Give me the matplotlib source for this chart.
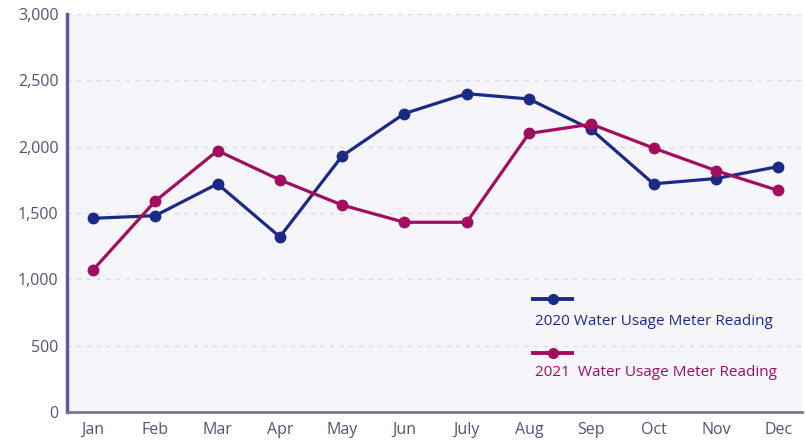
import matplotlib.pyplot as plt

months = ['Jan', 'Feb', 'Mar', 'Apr', 'May', 'Jun', 'July', 'Aug', 'Sep', 'Oct', 'Nov', 'Dec']
usage_2020 = [1460, 1480, 1720, 1320, 1930, 2250, 2400, 2360, 2130, 1720, 1760, 1850]
usage_2021 = [1070, 1590, 1970, 1750, 1560, 1430, 1430, 2100, 2170, 1990, 1820, 1670]
yticks = [0, 500, 1000, 1500, 2000, 2500, 3000]

blue = '#1b2a86'
red = '#a30d5e'
txt = '#5b4f78'

plt.rcParams['font.family'] = ['Open Sans', 'DejaVu Sans']

fig = plt.figure(figsize=(8.05, 4.41), dpi=100)
ax = fig.add_axes([0.083, 0.066, 0.913, 0.902])
ax.set_facecolor('#f5f5fa')

x = range(len(months))
ax.plot(x, usage_2020, color=blue, lw=2.3, marker='o', ms=7.5, zorder=3)
ax.plot(x, usage_2021, color=red, lw=2.3, marker='o', ms=7.5, zorder=3)

ax.set_xlim(-0.42, 11.38)
ax.set_ylim(0, 3000)
ax.set_yticks(yticks)
ax.set_yticklabels([f'{v:,}' for v in yticks])
ax.set_xticks(list(x))
ax.set_xticklabels(months)
ax.tick_params(length=0, labelsize=11.5, colors=txt)
ax.tick_params(axis='x', pad=7)
ax.tick_params(axis='y', pad=6)

ax.grid(axis='y', color='#d9d9e8', ls=(0, (3, 4)), lw=1)
ax.set_axisbelow(True)
for s in ['top', 'right']:
    ax.spines[s].set_visible(False)
ax.spines['left'].set_color('#5a5a9c')
ax.spines['left'].set_linewidth(2.5)
ax.spines['bottom'].set_color('#7a72a8')
ax.spines['bottom'].set_linewidth(2)

# custom legend: line above label
tr = ax.transAxes
ax.plot([0.634, 0.688], [0.283, 0.283], color=blue, lw=2.8, transform=tr, zorder=4)
ax.plot([0.661], [0.283], 'o', color=blue, ms=7, transform=tr, zorder=4)
ax.text(0.637, 0.228, '2020 Water Usage Meter Reading', color=blue, fontsize=11,
        transform=tr, va='center')
ax.plot([0.634, 0.688], [0.148, 0.148], color=red, lw=2.8, transform=tr, zorder=4)
ax.plot([0.661], [0.148], 'o', color=red, ms=7, transform=tr, zorder=4)
ax.text(0.637, 0.098, '2021  Water Usage Meter Reading', color=red, fontsize=11,
        transform=tr, va='center')

fig.savefig('out.png', dpi=100)
